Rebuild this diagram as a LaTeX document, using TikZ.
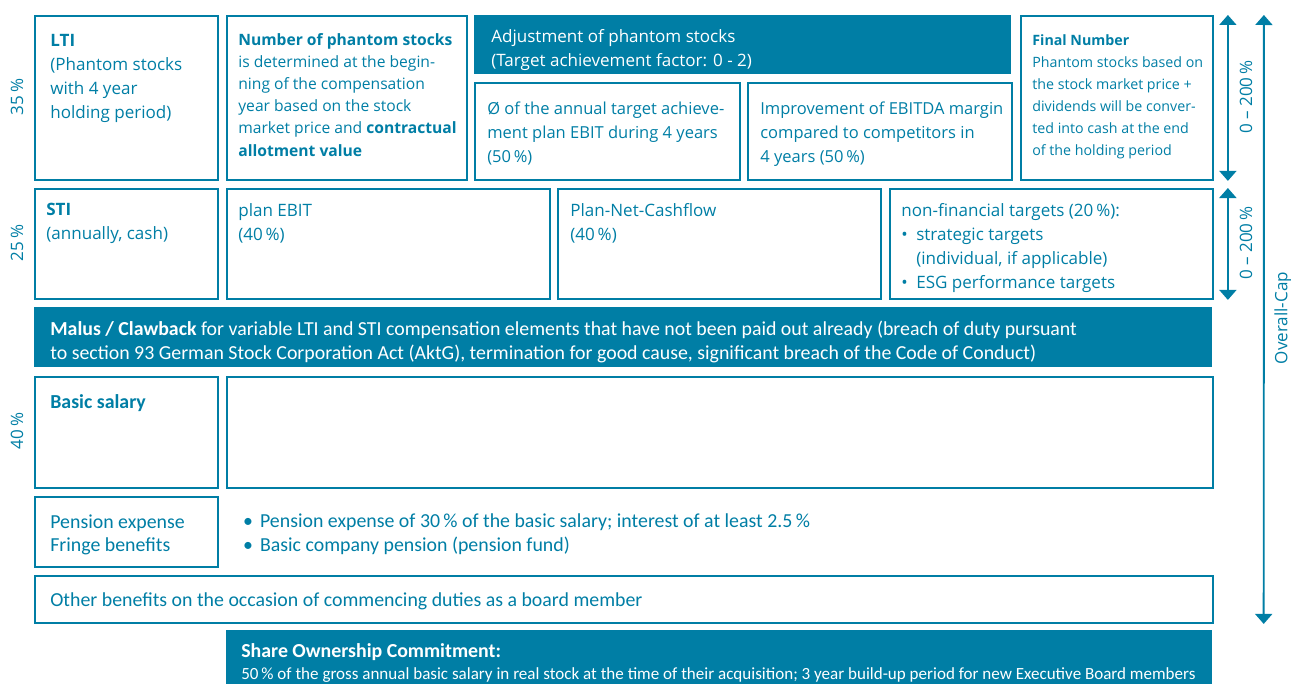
\documentclass[tikz,border=0pt]{standalone}
\usepackage{fontspec}
\setmainfont{Open Sans}
\newfontfamily\narrowfont{Carlito}
\usetikzlibrary{arrows.meta,positioning}
\definecolor{petrol}{RGB}{0,126,165}
\newcommand{\bul}{\textbullet\hspace{0.5em}}
\newcommand{\nbul}{\textbullet\hspace{0.35em}}
\tikzset{
  box/.style={draw=petrol, line width=1.1pt, anchor=north west, inner sep=0pt},
  darkbox/.style={fill=petrol, anchor=north west, inner sep=0pt},
  txt/.style={text=petrol, align=left, inner sep=0pt, font=\fontsize{9.7}{13.6}\selectfont},
  midtxt/.style={txt, font=\fontsize{9.4}{13.6}\selectfont},
  smalltxt/.style={txt, font=\fontsize{8.9}{12.6}\selectfont},
  finetxt/.style={txt, font=\fontsize{8.1}{12.6}\selectfont},
  narrowtxt/.style={txt, font=\narrowfont\fontsize{11.3}{13.6}\selectfont},
  sharetxt/.style={txt, font=\narrowfont\fontsize{9.7}{12.4}\selectfont},
  whitetxt/.style={text=white},
  dbl/.style={petrol, line width=1.1pt, {Triangle[width=0.34cm,length=0.2cm]}-{Triangle[width=0.34cm,length=0.2cm]}}
}

\begin{document}
\begin{tikzpicture}[x=0.02cm,y=-0.02cm]
    \useasboundingbox (0,0) rectangle (1291,683);
    % first row: LTI
    \node[box, minimum width=3.66cm, minimum height=3.28cm] (lti) at (34,15) {};
    \node[box, minimum width=4.80cm, minimum height=3.28cm] (num) at (226,15) {};
    \node[darkbox, minimum width=10.74cm, minimum height=1.18cm] (adj) at (474,15) {};
    \node[box, minimum width=5.30cm, minimum height=1.94cm] (avg) at (474,82) {};
    \node[box, minimum width=5.28cm, minimum height=1.94cm] (ebitda) at (747,82) {};
    \node[box, minimum width=3.84cm, minimum height=3.28cm] (final) at (1020,15) {};
    \node[txt, below right=0.38cm and 0.32cm of lti.north west] (ltitext) {\textbf{LTI}\\(Phantom stocks\\with 4 year\\holding period)};
    \node[smalltxt, below right=0.36cm and 0.24cm of num.north west] (numtext) {\textbf{Number of phantom stocks}\\is determined at the begin-\\ning of the compensation\\year based on the stock\\market price and \textbf{contractual}\\\textbf{allotment value}};
    \node[txt, whitetxt, below right=0.28cm and 0.34cm of adj.north west] (adjtext) {Adjustment of phantom stocks\\(Target achievement factor: 0 - 2)};
    \node[midtxt, below right=0.40cm and 0.26cm of avg.north west] (avgtext) {Ø of the annual target achieve-\\ment plan EBIT during 4 years\\(50\,\%)};
    \node[midtxt, below right=0.40cm and 0.26cm of ebitda.north west] (ebitdatext) {Improvement of EBITDA margin\\compared to competitors in\\4 years (50\,\%)};
    \node[finetxt, below right=0.38cm and 0.24cm of final.north west] (finaltext) {\textbf{Final Number}\\Phantom stocks based on\\the stock market price +\\dividends will be conver-\\ted into cash at the end\\of the holding period};
    % second row: STI
    \node[box, minimum width=3.66cm, minimum height=2.20cm] (sti) at (34,188) {};
    \node[box, minimum width=6.46cm, minimum height=2.20cm] (ebit) at (226,188) {};
    \node[box, minimum width=6.46cm, minimum height=2.20cm] (cash) at (557,188) {};
    \node[box, minimum width=6.46cm, minimum height=2.20cm] (nonfin) at (889,188) {};
    \node[txt, below right=0.30cm and 0.24cm of sti.north west] (stitext) {\textbf{STI}\\(annually, cash)};
    \node[txt, below right=0.30cm and 0.24cm of ebit.north west] (ebittext) {plan EBIT\\(40\,\%)};
    \node[txt, below right=0.30cm and 0.26cm of cash.north west] (cashtext) {Plan-Net-Cashflow\\(40\,\%)};
    \node[txt, below right=0.30cm and 0.24cm of nonfin.north west] (nonfintext) {non-financial targets (20\,\%):\\\bul strategic targets\\\hphantom{\bul}(individual, if applicable)\\\bul ESG performance targets};
    % malus / clawback
    \node[darkbox, minimum width=23.56cm, minimum height=1.20cm] (malus) at (34,307) {};
    \node[narrowtxt, whitetxt, below right=0.28cm and 0.32cm of malus.north west] (malustext) {\textbf{Malus / Clawback} for variable LTI and STI compensation elements that have not been paid out already (breach of duty pursuant\\to section 93 German Stock Corporation Act (AktG), termination for good cause, significant breach of the Code of Conduct)};
    % fixed part
    \node[box, minimum width=3.66cm, minimum height=2.22cm] (basic) at (34,376) {};
    \node[box, minimum width=19.72cm, minimum height=2.22cm] (blank) at (226,376) {};
    \node[box, minimum width=3.66cm, minimum height=1.40cm] (pension) at (34,496) {};
    \node[box, minimum width=23.56cm, minimum height=0.94cm] (other) at (34,575) {};
    \node[narrowtxt, below right=0.36cm and 0.32cm of basic.north west] (basictext) {\textbf{Basic salary}};
    \node[narrowtxt, below right=0.36cm and 0.32cm of pension.north west] (pensiontext) {Pension expense\\Fringe benefits};
    \node[narrowtxt, below right=0.34cm and 0.48cm of pension.north east] (bullets) {\nbul Pension expense of 30\,\% of the basic salary; interest of at least 2.5\,\%\\\nbul Basic company pension (pension fund)};
    \node[narrowtxt, below right=0.34cm and 0.32cm of other.north west] (othertext) {Other benefits on the occasion of commencing duties as a board member};
    \node[darkbox, minimum width=19.72cm, minimum height=1.4cm] (share) at (226,630) {};
    \node[sharetxt, whitetxt, below right=0.26cm and 0.3cm of share.north west] (sharetext) {{\fontsize{11.3}{12.4}\selectfont\textbf{Share Ownership Commitment:}}\\50\,\% of the gross annual basic salary in real stock at the time of their acquisition; 3 year build-up period for new Executive Board members};
    % shares and caps
    \node[txt, rotate=90] (p35) at (17,97) {35\,\%};
    \node[txt, rotate=90] (p25) at (17,243) {25\,\%};
    \node[txt, rotate=90] (p40) at (17,431) {40\,\%};
    \draw[dbl] ([xshift=0.28cm]final.north east) -- ([xshift=0.28cm]final.south east);
    \draw[dbl] ([xshift=0.28cm]nonfin.north east) -- ([xshift=0.28cm]nonfin.south east);
    \draw[dbl] ([xshift=1cm]final.north east) -- ([xshift=1cm]other.south east);
    \node[txt, rotate=90] (cap1) at (1246,97) {0 – 200\,\%};
    \node[txt, rotate=90] (cap2) at (1246,243) {0 – 200\,\%};
    \node[txt, rotate=90] (overall) at (1283,318) {Overall-Cap};
\end{tikzpicture}
\end{document}
